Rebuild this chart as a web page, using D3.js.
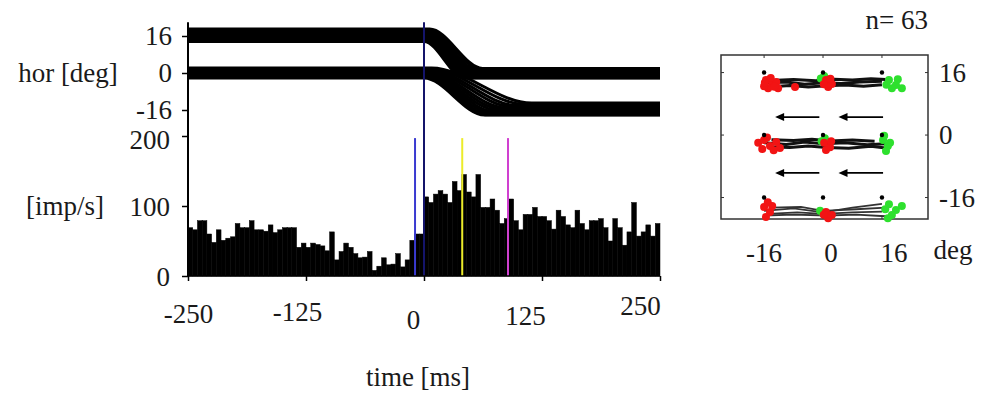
<!DOCTYPE html>
<html><head><meta charset="utf-8">
<script src="https://cdn.jsdelivr.net/npm/d3@7/dist/d3.min.js"></script>
<style>
html,body{margin:0;padding:0;background:#fff;}
svg{display:block;}
text{font-family:"Liberation Serif","Times New Roman",serif;fill:#1a1a1a;}
</style></head>
<body><svg id="c" width="986" height="394"></svg>
<script>
// ---------------- data ----------------
const timeTicks = [-250, -125, 0, 125, 250];
const rateTicks = [0, 100, 200];
const eyeTicks = [16, 0, -16];
const binWidth = 5; // ms
// firing rate per 5 ms bin, -250 .. +250 ms
const rate = [69,66,79,79,60,48,66,51,54,56, 75,69,69,79,66,66,64,73,62,66,
              69,69,69,41,47,41,47,45,43,36, 63,23,35,47,41,32,26,27,35,8,
              14,26,16,17,32,13,23,51,60,60,
              113,105,117,122,117,105,135,122,145,120, 113,145,98,98,110,94,75,82,110,79,
              66,88,88,98,85,85,79,67,94,85, 73,69,94,75,66,79,79,82,69,50,
              82,69,44,63,105,57,63,73,57,75];
// event markers (ms) and their height (imp/s)
const eventTimes = [-9.5, 40.5, 89];
const eventTop = [197, 197, 197];
// eye traces: 16 -> 0 deg saccades
const upStart  = [19, 18.5, 18, 17.5, 17, 16.5, 16, 15.5, 15, 14.5, 14, 13.6];
const upOnset  = [6, 5, 4, 4, 3, 3, 2, 2, 1, 1, 0, 0];
const upOffset = [62, 60, 57, 55, 53, 52, 50, 49, 47, 46, 44, 43];
const upEnd    = [2, 1.6, 1.2, 0.8, 0.4, 0, -0.4, -0.8, -1.2, -1.6, -2, -2.2];
// eye traces: 0 -> -16 deg saccades
const dnStart  = [2.2, 1.8, 1.4, 1, 0.6, 0.2, -0.2, -0.6, -1, -1.4, -1.8, -2.2];
const dnOnset  = [8, 6, 5, 4, 3, 3, 2, 2, 1, 1, 0, 0];
const dnOffset = [114, 106, 98, 92, 86, 81, 77, 73, 70, 67, 65, 64];
const dnEnd    = [-13, -13.5, -14, -14.5, -15, -15.5, -16, -16.5, -17, -17.5, -18, -18.2];
const eyeTopDeg = 22;

// right panel (deg, deg)
const nTrials = 63;
const panelTicks = [-16, 0, 16];
const targetX = [-16, 0, 16];
const targetY = [16, 0, -16];
const rowTracesTop = [
  [[-15,13.4],[-10,13.6],[-5,13.0],[0,13.4],[5,13.2],[10,13.6],[16,13.8]],
  [[-14,12.4],[-9,12.7],[-4,12.3],[1,12.6],[6,12.8],[11,12.5],[16,12.9]],
  [[-14,14.0],[-8,14.2],[-2,13.9],[3,14.3],[8,14.1],[13,14.4],[17,14.2]]
];
const rowTracesMid = [
  [[-16,-2],[-10,-2.4],[-5,-1.8],[0,-2.2],[6,-2.0],[12,-2.5],[17,-2.2]],
  [[-15,-3],[-9,-3.2],[-4,-2.8],[1,-3.2],[7,-3.4],[13,-2.9],[17,-3.3]],
  [[-14,-1.2],[-8,-1.4],[-3,-1.1],[2,-1.5],[8,-1.3],[14,-1.6]]
];
const rowTracesBot = [
  [[-16,-19.4],[-8,-18.8],[0,-19.8],[8,-18.6],[16,-17.6]],
  [[-15,-20.2],[-7,-19.8],[0,-20.2],[8,-19.8],[16,-19.6]],
  [[-14,-18.6],[-6,-18.4],[0,-19.4],[9,-19],[17,-18.6]],
  [[-16,-20.6],[-8,-20.4],[1,-20.6],[9,-20.4],[17,-20.8]]
];
const redPts = [[-15.5,14.1],[-13.8,13.1],[-14.9,12.0],[-12.7,13.6],[-16.0,12.5],[-12.2,12.0],[-7.6,12.3],
  [-14.2,14.6],[-15.8,13.4],[-13.2,12.4],
  [0.8,14.1],[2.4,13.1],[1.4,12.3],[0.2,13.0],[2.0,14.4],
  [-17.6,-2.0],[-16.0,-1.3],[-14.4,-2.8],[-12.7,-1.8],[-16.5,-3.6],[-11.7,-3.3],[-15.2,-0.6],[-13.4,-3.9],
  [0.3,-2.0],[1.9,-3.1],[0.8,-3.8],[2.2,-1.6],
  [-16.0,-18.4],[-14.4,-19.7],[-15.5,-21.0],[-13.8,-18.2],[-15.0,-17.2],
  [0.8,-19.7],[2.4,-20.5],[1.4,-21.3],[0.2,-20.4]];
const greenPts = [[0.3,15.1],[-0.6,14.5],[17.9,14.1],[19.8,12.8],[21.4,12.0],[18.7,12.0],[20.3,14.3],[17.2,12.9],
  [0.5,-0.8],[-0.4,-1.6],[16.3,-1.3],[17.6,-2.8],[17.1,-4.1],[18.2,-2.0],[16.6,-0.2],
  [0,-20.0],[-0.8,-19.4],[17.9,-17.7],[19.8,-19.2],[21.4,-18.2],[18.7,-20.5],[17.6,-21.3],[16.9,-19.0]];
const arrowRowsY = [4.6, -9.7];
const arrowSpans = [[-1, -13], [16.3, 4.2]];

// ---------------- layout / style ----------------
const FS = 27;
const eventColors = ["#3a3ad0", "#ecec2a", "#d040d0"];
const zeroLineColor = "#14146a";
const labelNudge = [[0,1],[-9,-1],[-11,7],[-17,3],[-20,-7]];
const fmt = (v) => String(v);

const svg = d3.select("#c");
const xT = d3.scaleLinear().domain([-250, 250]).range([188, 660]);
const yR = d3.scaleLinear().domain([0, 200]).range([276, 136]);
const yE = d3.scaleLinear().domain([-16, 16]).range([110, 36]);

// histogram bars
const bins = d3.range(-250, 250, binWidth);
svg.append("g").selectAll("rect").data(bins).join("rect")
  .attr("x", (t) => xT(t))
  .attr("width", (t) => xT(t + binWidth) - xT(t))
  .attr("y", (t, i) => yR(rate[i]))
  .attr("height", (t, i) => yR(0) - yR(rate[i]))
  .attr("fill", "#000").attr("stroke", "#000").attr("stroke-width", 0.5);

// event lines
svg.append("g").selectAll("line").data(eventTimes).join("line")
  .attr("x1", (t) => xT(t)).attr("x2", (t) => xT(t))
  .attr("y1", yR(0)).attr("y2", (t, i) => yR(eventTop[i]))
  .attr("stroke", (t, i) => eventColors[i]).attr("stroke-width", 2);

// eye traces
const eyeLine = d3.line().x((d) => xT(d[0])).y((d) => yE(d[1])).curve(d3.curveMonotoneX);
const upTraces = upStart.map((s, i) => [[-250, s], [upOnset[i], s], [upOffset[i], upEnd[i]], [250, upEnd[i]]]);
const dnTraces = dnStart.map((s, i) => [[-250, s], [dnOnset[i], s], [dnOffset[i], dnEnd[i]], [250, dnEnd[i]]]);
svg.append("g").selectAll("path").data(upTraces.concat(dnTraces)).join("path")
  .attr("d", eyeLine).attr("fill", "none").attr("stroke", "#000").attr("stroke-width", 3);

// time-zero line
svg.append("line").attr("x1", xT(0)).attr("x2", xT(0))
  .attr("y1", yR(0)).attr("y2", yE(eyeTopDeg))
  .attr("stroke", zeroLineColor).attr("stroke-width", 2);

// axes
svg.append("line").attr("x1", xT(-250)).attr("x2", xT(-250))
  .attr("y1", yE(eyeTopDeg)).attr("y2", yR(0)).attr("stroke", "#000").attr("stroke-width", 2);

function styleAxis(g) {
  g.select(".domain").remove();
  g.selectAll(".tick line").attr("stroke", "#000").attr("stroke-width", 1.5);
  g.selectAll(".tick text").attr("font-family", "Liberation Serif").attr("font-size", FS).attr("fill", "#1a1a1a");
}
svg.append("g").attr("transform", `translate(${xT(-250)},0)`)
  .call(d3.axisLeft(yE).tickValues(eyeTicks).tickSize(6).tickPadding(10).tickFormat(fmt))
  .call(styleAxis);
const yAx = svg.append("g").attr("transform", `translate(${xT(-250)},0)`)
  .call(d3.axisLeft(yR).tickValues(rateTicks).tickSize(6).tickPadding(12).tickFormat(fmt))
  .call(styleAxis);
yAx.selectAll(".tick text").attr("transform", (d) => `translate(0,${d === 200 ? 4 : 1})`);
const xAx = svg.append("g").attr("transform", `translate(0,${yR(0)})`)
  .call(d3.axisBottom(xT).tickValues(timeTicks).tickSize(5).tickPadding(22).tickFormat(fmt))
  .call(styleAxis);
xAx.selectAll(".tick text").attr("transform", (d, i) => `translate(${labelNudge[i][0]},${labelNudge[i][1]})`);
svg.append("line").attr("x1", xT(-250)).attr("x2", xT(250)).attr("y1", yR(0)).attr("y2", yR(0))
  .attr("stroke", "#000").attr("stroke-width", 1.5);

svg.append("text").attr("x", 68).attr("y", yE(0)).attr("dominant-baseline", "central")
  .attr("text-anchor", "middle").attr("font-size", FS).text("hor [deg]");
svg.append("text").attr("x", 65).attr("y", yR(100)).attr("dominant-baseline", "central")
  .attr("text-anchor", "middle").attr("font-size", FS).text("[imp/s]");
svg.append("text").attr("x", 418).attr("y", 377).attr("dominant-baseline", "central")
  .attr("text-anchor", "middle").attr("font-size", FS).text("time [ms]");

// ---------------- right panel ----------------
const xP = d3.scaleLinear().domain([-27.7, 28.5]).range([721, 928]);
const yP = d3.scaleLinear().domain([-21.5, 20.5]).range([219, 55]);
const pLine = d3.line().x((d) => xP(d[0])).y((d) => yP(d[1])).curve(d3.curveLinear);
const rp = svg.append("g");
rp.append("rect").attr("x", xP(-27.7)).attr("y", yP(20.5))
  .attr("width", xP(28.5) - xP(-27.7)).attr("height", yP(-21.5) - yP(20.5))
  .attr("fill", "none").attr("stroke", "#333").attr("stroke-width", 1.5);
panelTicks.forEach((v) => {
  rp.append("line").attr("x1", xP(v)).attr("x2", xP(v)).attr("y1", yP(20.5)).attr("y2", yP(20.5) + 3).attr("stroke", "#333");
  rp.append("line").attr("x1", xP(v)).attr("x2", xP(v)).attr("y1", yP(-21.5)).attr("y2", yP(-21.5) - 3).attr("stroke", "#333");
  rp.append("line").attr("y1", yP(v)).attr("y2", yP(v)).attr("x1", xP(-27.7)).attr("x2", xP(-27.7) + 3).attr("stroke", "#333");
  rp.append("line").attr("y1", yP(v)).attr("y2", yP(v)).attr("x1", xP(28.5)).attr("x2", xP(28.5) - 3).attr("stroke", "#333");
});
rp.append("g").selectAll("path").data(rowTracesTop.concat(rowTracesMid)).join("path")
  .attr("d", pLine).attr("fill", "none").attr("stroke", "#111").attr("stroke-width", 3);
rp.append("g").selectAll("path").data(rowTracesBot).join("path")
  .attr("d", pLine).attr("fill", "none").attr("stroke", "#333").attr("stroke-width", 1.8);
rp.append("g").selectAll("circle").data(greenPts).join("circle")
  .attr("cx", (d) => xP(d[0])).attr("cy", (d) => yP(d[1])).attr("r", 4).attr("fill", "#2ee02e");
rp.append("g").selectAll("circle").data(redPts).join("circle")
  .attr("cx", (d) => xP(d[0])).attr("cy", (d) => yP(d[1])).attr("r", 4).attr("fill", "#f21414");
const targets = [];
targetY.forEach((ty) => targetX.forEach((tx) => targets.push([tx, ty])));
rp.append("g").selectAll("circle").data(targets).join("circle")
  .attr("cx", (d) => xP(d[0])).attr("cy", (d) => yP(d[1])).attr("r", 2.2).attr("fill", "#000");

arrowRowsY.forEach((ay) => arrowSpans.forEach((s) => {
  rp.append("line").attr("x1", xP(s[0])).attr("x2", xP(s[1]) + 6).attr("y1", yP(ay)).attr("y2", yP(ay))
    .attr("stroke", "#000").attr("stroke-width", 1.6);
  rp.append("path").attr("d", `M${xP(s[1])},${yP(ay)} l9,-4 l0,8 Z`).attr("fill", "#000");
}));

rp.append("g").selectAll("text").data(panelTicks).join("text")
  .attr("x", 939).attr("y", (v) => yP(v)).attr("dominant-baseline", "central")
  .attr("font-size", FS).text(fmt);
rp.append("g").selectAll("text").data(panelTicks).join("text")
  .attr("x", (v) => xP(v) + (v === -16 ? 0 : v === 0 ? 8 : 12)).attr("y", 253).attr("dominant-baseline", "central")
  .attr("text-anchor", "middle").attr("font-size", FS).text(fmt);
rp.append("text").attr("x", 953).attr("y", 250).attr("dominant-baseline", "central")
  .attr("text-anchor", "middle").attr("font-size", FS).text("deg");
rp.append("text").attr("x", 928).attr("y", 20).attr("dominant-baseline", "central")
  .attr("text-anchor", "end").attr("font-size", FS).text("n= " + nTrials);
</script>
</body></html>
